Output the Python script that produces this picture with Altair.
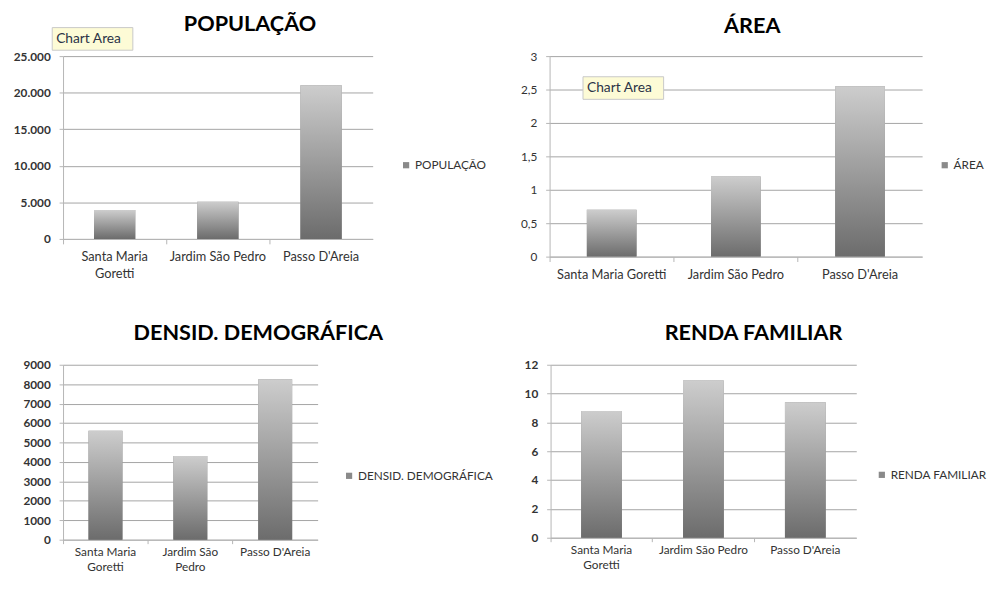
import altair as alt
import pandas as pd

bairros = ["Santa Maria Goretti", "Jardim São Pedro", "Passo D'Areia"]
populacao = [3950, 5100, 21000]
area = [0.7, 1.2, 2.55]
densidade = [5600, 4300, 8250]
renda = [8.8, 10.9, 9.4]

FONT = "Lato"
GRID = "#a3a3a3"
AXIS = "#b5b5b5"
LABEL = "#333333"

grad = alt.Gradient(
    gradient="linear",
    stops=[alt.GradientStop(color="#cdcdcd", offset=0),
           alt.GradientStop(color="#6c6c6c", offset=1)],
    x1=0, x2=0, y1=0, y2=1,
)


def panel(serie, values, yvals, ymax, ylabel_expr, xlabel_expr, w, h, lx, ly,
          tip=None, ybold="bold", title_offset=14, xtick=5, xpad=7, xlh=17, xfs=13,
          ymin_ext=0):
    df = pd.DataFrame({"bairro": bairros, "valor": values, "serie": serie})
    x = alt.X(
        "bairro:N", sort=bairros, title=None,
        scale=alt.Scale(paddingInner=0, paddingOuter=0),
        axis=alt.Axis(labelAngle=0, bandPosition=0,
                      domainColor=AXIS, tickColor=AXIS, tickSize=xtick,
                      labelFont=FONT, labelFontSize=xfs, labelColor=LABEL,
                      labelPadding=xpad, labelLineHeight=xlh, labelExpr=xlabel_expr,
                      labelLimit=300, grid=False),
    )
    y = alt.Y(
        "valor:Q", title=None,
        scale=alt.Scale(domain=[0, ymax], nice=False),
        axis=alt.Axis(values=yvals, labelExpr=ylabel_expr, grid=True, gridColor=GRID,
                      domainColor=AXIS, tickColor=AXIS, tickSize=4,
                      labelFont=FONT, labelFontSize=12, labelColor=LABEL,
                      labelPadding=9, labelFontWeight=ybold, minExtent=ymin_ext),
    )
    base = alt.Chart(df)
    legend_bars = base.mark_bar(width={"band": 0.4}).encode(
        x=x, y=y,
        color=alt.Color("serie:N", scale=alt.Scale(range=["#8a8a8a"]),
                        legend=alt.Legend(title=None, orient="none", legendX=lx, legendY=ly,
                                          symbolType="square", symbolSize=40,
                                          symbolStrokeWidth=0,
                                          labelFont=FONT, labelFontSize=12,
                                          labelColor=LABEL, labelOffset=3,
                                          labelLimit=400)),
    )
    grad_bars = base.mark_bar(width={"band": 0.4}, color=grad).encode(x=x, y=y)
    layers = [legend_bars, grad_bars]
    if tip is not None:
        tx, ty = tip
        one = alt.Chart(pd.DataFrame({"t": ["Chart Area"]}))
        box = one.mark_rect(fill="#fdfbd6", stroke="#c8c8c8", strokeWidth=1).encode(
            x=alt.value(tx), x2=alt.value(tx + 82), y=alt.value(ty), y2=alt.value(ty + 23))
        txt = one.mark_text(align="left", baseline="middle", font=FONT, fontSize=14,
                            color="#2b3347").encode(
            x=alt.value(tx + 4), y=alt.value(ty + 11.5), text="t:N")
        layers += [box, txt]
    return alt.layer(*layers).properties(
        width=w, height=h,
        title=alt.TitleParams(serie, font=FONT, fontSize=22,
                              fontWeight="bold", color="#000000", anchor="middle",
                              frame="bounds", offset=title_offset),
    )


wrap_sm = "datum.label == 'Santa Maria Goretti' ? ['Santa Maria', 'Goretti'] : datum.label"
wrap_both = ("datum.label == 'Santa Maria Goretti' ? ['Santa Maria', 'Goretti'] : "
             "(datum.label == 'Jardim São Pedro' ? ['Jardim São', 'Pedro'] : datum.label)")

p1 = panel("POPULAÇÃO", populacao, [0, 5000, 10000, 15000, 20000, 25000], 25000,
           "replace(datum.label, ',', '.')", wrap_sm, 315, 186, 343, 105,
           tip=(-11, -29), title_offset=-9)
p2 = panel("ÁREA", area, [0, 0.5, 1, 1.5, 2, 2.5, 3], 3,
           "replace(format(datum.value, '~g'), '.', ',')", "datum.label", 379, 204, 396, 105,
           tip=(34, 21), ybold="normal", title_offset=12)
p3 = panel("DENSID. DEMOGRÁFICA", densidade, list(range(0, 9001, 1000)), 9000,
           "format(datum.value, 'd')", wrap_both, 259, 178, 285, 107,
           xtick=4, xpad=3, xlh=15, xfs=12)
p4 = panel("RENDA FAMILIAR", renda, [0, 2, 4, 6, 8, 10, 12], 12,
           "datum.label", wrap_sm, 311, 176, 331, 106,
           xtick=4, xpad=3, xlh=15, xfs=12, ymin_ext=31)

chart = alt.concat(
    p1, p2, p3, p4, columns=2, align="none", spacing={"row": 42, "column": 27}
).resolve_scale(
    color="independent", x="independent", y="independent"
).configure_view(stroke=None).properties(
    padding={"left": 5, "top": 0, "right": 0, "bottom": 0}
)

chart.save("out.html", embed_options={"renderer": "svg", "actions": False})
